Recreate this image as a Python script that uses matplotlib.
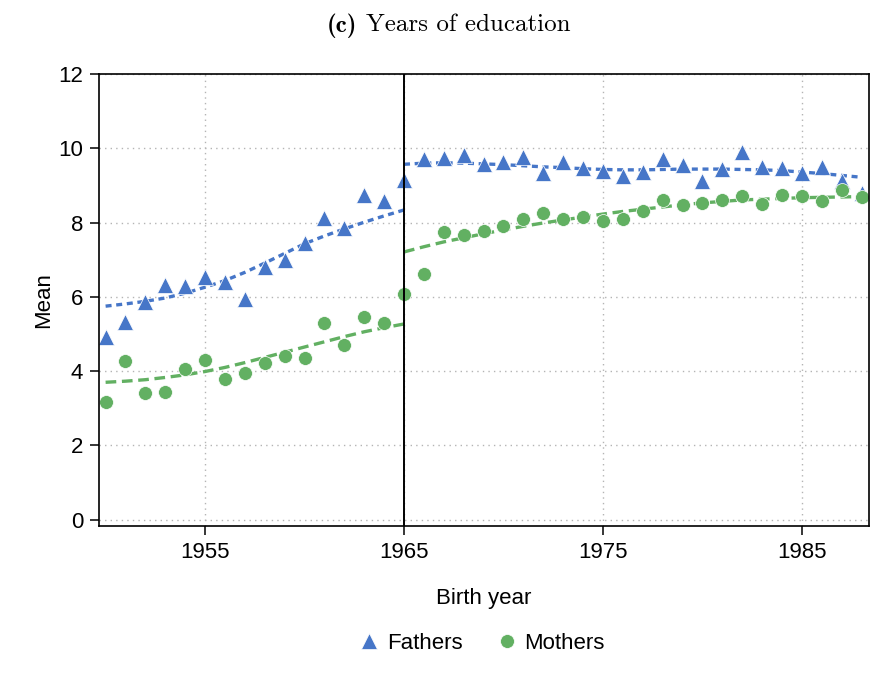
import matplotlib
matplotlib.use("Agg")
import matplotlib.pyplot as plt

# Birth cohorts
years = list(range(1950, 1989))

# Mean years of education by birth cohort
fathers = [4.92, 5.33, 5.87, 6.32, 6.30, 6.54, 6.40, 5.95, 6.81, 7.00,
           7.45, 8.12, 7.86, 8.74, 8.58, 9.15,
           9.71, 9.74, 9.82, 9.58, 9.63, 9.77, 9.34, 9.63, 9.47, 9.39,
           9.25, 9.35, 9.71, 9.55, 9.12, 9.44, 9.90, 9.50, 9.47, 9.34,
           9.50, 9.12, 8.80]
mothers = [3.17, 4.28, 3.42, 3.44, 4.06, 4.30, 3.79, 3.95, 4.22, 4.41,
           4.36, 5.30, 4.71, 5.46, 5.30, 6.08,
           6.62, 7.75, 7.67, 7.78, 7.91, 8.10, 8.26, 8.10, 8.16, 8.04,
           8.10, 8.32, 8.60, 8.47, 8.54, 8.60, 8.72, 8.50, 8.73, 8.72,
           8.58, 8.88, 8.70]

# Smoothed fits, before and after the 1965 cutoff
yrs_pre = list(range(1950, 1966))
yrs_post = list(range(1965, 1989))
fit_fathers_pre = [5.75, 5.81, 5.88, 5.97, 6.10, 6.26, 6.44, 6.66, 6.91, 7.17,
                   7.43, 7.64, 7.83, 8.01, 8.18, 8.34]
fit_fathers_post = [9.57, 9.60, 9.61, 9.60, 9.58, 9.56, 9.53, 9.50, 9.48, 9.45,
                    9.43, 9.42, 9.42, 9.43, 9.44, 9.44, 9.44, 9.43, 9.42, 9.40,
                    9.36, 9.32, 9.27, 9.22]
fit_mothers_pre = [3.70, 3.73, 3.77, 3.83, 3.90, 3.99, 4.10, 4.23, 4.37, 4.51,
                   4.65, 4.79, 4.93, 5.06, 5.17, 5.27]
fit_mothers_post = [7.21, 7.35, 7.48, 7.59, 7.70, 7.80, 7.90, 7.99, 8.07, 8.15,
                    8.23, 8.30, 8.36, 8.42, 8.48, 8.53, 8.57, 8.61, 8.63, 8.65,
                    8.67, 8.68, 8.69, 8.70]

azul = "#4676c8"
verde = "#62b062"

plt.rcParams["font.family"] = ["Liberation Sans", "DejaVu Sans"]

fig = plt.figure(figsize=(8.78, 6.86), dpi=100)
ax = fig.add_axes([0.1128, 0.2332, 0.8769, 0.6589])

ax.grid(True, color="#b4b4b4", linestyle=(0, (1, 3)), linewidth=1.0)
ax.set_axisbelow(True)

ax.plot(yrs_pre, fit_fathers_pre, color=azul, linewidth=2.4, linestyle=(0, (1.8, 1.4)))
ax.plot(yrs_post, fit_fathers_post, color=azul, linewidth=2.4, linestyle=(0, (1.8, 1.4)))
ax.plot(yrs_pre, fit_mothers_pre, color=verde, linewidth=2.4, linestyle=(0, (3.2, 1.7)))
ax.plot(yrs_post, fit_mothers_post, color=verde, linewidth=2.4, linestyle=(0, (3.2, 1.7)))

ax.plot(years, fathers, "^", markersize=11, color=azul, markeredgecolor="white",
        markeredgewidth=0.5, linestyle="none", label="Fathers")
ax.plot(years, mothers, "o", markersize=10, color=verde, markeredgecolor="white",
        markeredgewidth=0.5, linestyle="none", label="Mothers")

ax.axvline(1965, color="black", linewidth=1.4)

ax.set_xlim(1949.67, 1988.37)
ax.set_ylim(-0.17, 12.0)
ax.set_xticks([1955, 1965, 1975, 1985])
ax.set_yticks([0, 2, 4, 6, 8, 10, 12])
ax.tick_params(axis="both", direction="out", length=6.5, width=1.1, labelsize=16, pad=5)
for s in ax.spines.values():
    s.set_linewidth(1.2)

ax.set_xlabel("Birth year", fontsize=16, labelpad=18)
ax.set_ylabel("Mean", fontsize=16, labelpad=3)

fig.legend(loc="center", bbox_to_anchor=(0.547, 0.062), ncol=2, frameon=False,
           fontsize=16, handletextpad=0.2, columnspacing=1.4, handlelength=1.2)

# Panel title: bold "(c)" followed by the roman caption
t1 = fig.text(0.3725, 0.963, "(c)", family="cmb10", fontsize=18, ha="left", va="center")
r = fig.canvas.get_renderer()
w = t1.get_window_extent(renderer=r).width / fig.bbox.width
fig.text(0.3725 + w + 0.01, 0.963, "Years of education", family="cmr10", fontsize=18,
         ha="left", va="center")

fig.savefig("out.png", dpi=100)
